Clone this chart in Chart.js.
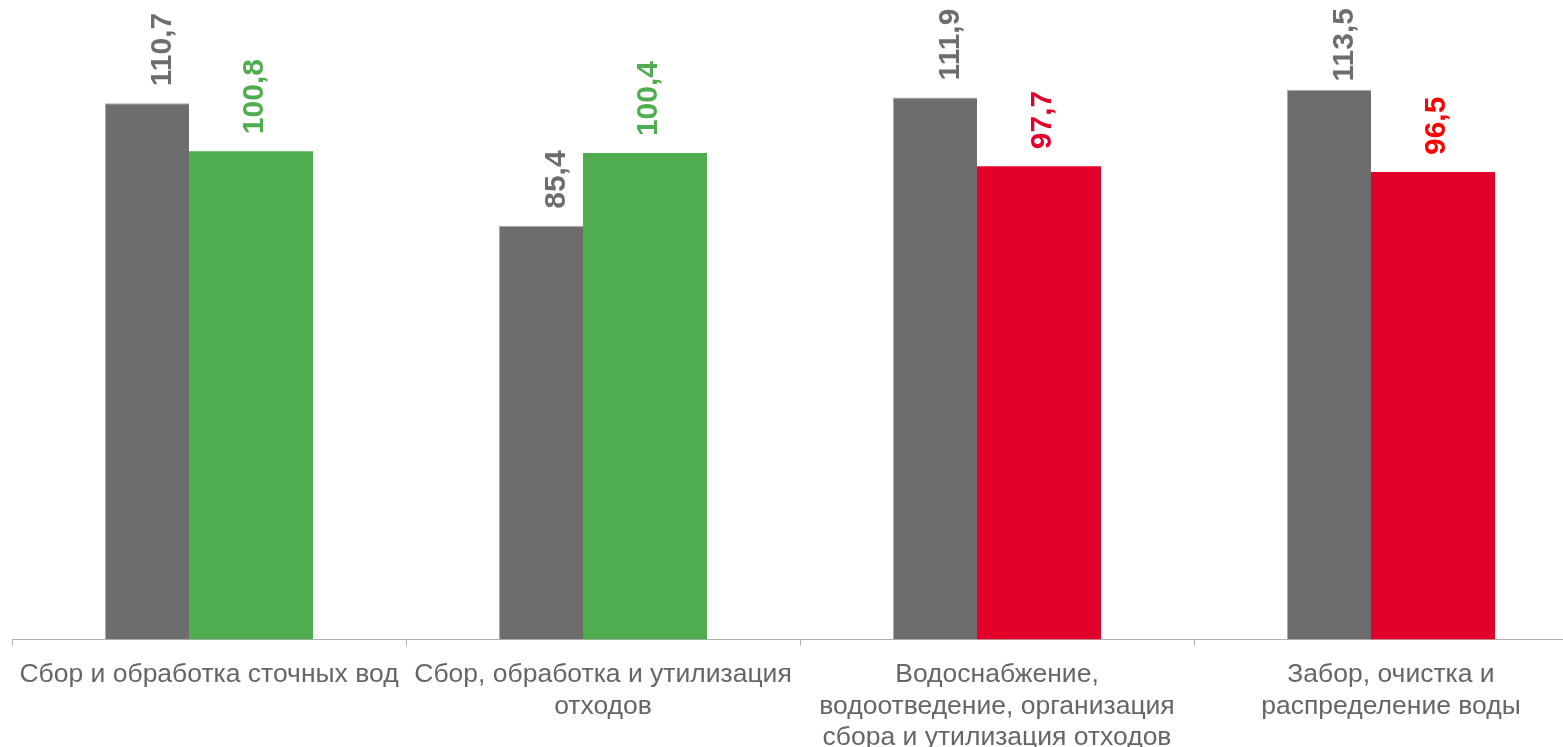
<!DOCTYPE html>
<html>
<head>
<meta charset="utf-8">
<script src="https://cdn.jsdelivr.net/npm/chart.js@4.4.1/dist/chart.umd.min.js"></script>
<style>
html,body{margin:0;padding:0;background:#fff;overflow:hidden;}
#wrap{width:1588px;height:767px;position:relative;}
</style>
</head>
<body>
<div id="wrap"><canvas id="c"></canvas></div>
<script>
const categories = [
  ["Сбор и обработка сточных вод"],
  ["Сбор, обработка и утилизация", "отходов"],
  ["Водоснабжение,", "водоотведение, организация", "сбора и утилизация отходов"],
  ["Забор, очистка и", "распределение воды"]
];
const series1Values = [110.7, 85.4, 111.9, 113.5];
const series2Values = [100.8, 100.4, 97.7, 96.5];
const series2BarColors = ["#4fad50", "#4fad50", "#e2002a", "#e2002a"];
const series2LabelColors = ["#4fad50", "#4fad50", "#e2002a", "#ff0000"];
const yMin = 0;
const yMax = 132;

const FONT = "'Liberation Sans', Arial, sans-serif";

const valueLabels = {
  id: 'valueLabels',
  afterDatasetsDraw(chart) {
    const ctx = chart.ctx;
    const fs = 30;
    chart.data.datasets.forEach((ds, di) => {
      const meta = chart.getDatasetMeta(di);
      meta.data.forEach((el, i) => {
        const v = ds.data[i];
        const txt = v.toFixed(1).replace('.', ',');
        const cx = el.x + (di === 0 ? 13 : 1);
        ctx.save();
        ctx.font = 'bold ' + fs + 'px ' + FONT;
        const w = ctx.measureText(txt).width;
        let start = el.y - 17;
        const minTop = chart.chartArea.top + 8;
        if (start - w < minTop) start = minTop + w;
        ctx.fillStyle = di === 0 ? '#6d6d6d' : series2LabelColors[i];
        ctx.textAlign = 'left';
        ctx.textBaseline = 'alphabetic';
        ctx.translate(cx + 0.358 * fs, start);
        ctx.rotate(-Math.PI / 2);
        ctx.fillText(txt, 0, 0);
        ctx.restore();
      });
    });
  }
};

new Chart(document.getElementById('c'), {
  type: 'bar',
  data: {
    labels: categories,
    datasets: [
      {
        data: series1Values,
        backgroundColor: '#6d6d6d',
        borderColor: '#a9a9a9',
        borderWidth: {top: 1, left: 1, right: 0, bottom: 0},
        categoryPercentage: 0.6294,
        barPercentage: 0.6774
      },
      {
        data: series2Values,
        backgroundColor: series2BarColors,
        borderWidth: 0,
        categoryPercentage: 0.4264,
        barPercentage: 1.476
      }
    ]
  },
  options: {
    responsive: true,
    maintainAspectRatio: false,
    animation: false,
    devicePixelRatio: 1,
    layout: {padding: {left: 12, right: 0, top: 0, bottom: 0}},
    plugins: {legend: {display: false}, tooltip: {enabled: false}},
    scales: {
      x: {
        offset: true,
        grid: {
          offset: true,
          drawOnChartArea: false,
          drawTicks: true,
          tickLength: 6,
          color: '#b0b0b0',
          lineWidth: 1
        },
        border: {display: true, color: '#b0b0b0', width: 1},
        ticks: {
          autoSkip: false,
          maxRotation: 0,
          minRotation: 0,
          padding: 13,
          color: '#666666',
          font: {family: FONT, size: 26.5, lineHeight: 1.2}
        }
      },
      y: {
        display: false,
        min: yMin,
        max: yMax
      }
    }
  },
  plugins: [valueLabels]
});
</script>
</body>
</html>
